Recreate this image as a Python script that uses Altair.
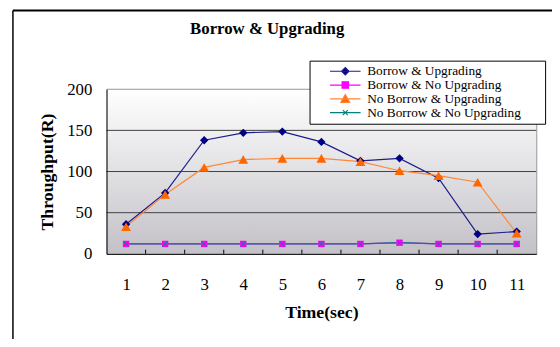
import altair as alt
import pandas as pd

# ---- data ----
time_sec = list(range(1, 12))
series_names = [
    "Borrow & Upgrading",
    "Borrow & No Upgrading",
    "No Borrow & Upgrading",
    "No Borrow & No Upgrading",
]
borrow_upgrading = [36, 74, 138, 147, 148.5, 136, 113, 116, 92, 24, 27]
borrow_no_upgrading = [12, 12, 12, 12, 12, 12, 12, 13.5, 12, 12, 12]
no_borrow_upgrading = [33, 72, 105, 114.5, 116, 116, 112, 101, 95, 87, 25]
no_borrow_no_upgrading = [12, 12, 12, 12, 12, 12, 12, 13.5, 12, 12, 12]

y_ticks = [0, 50, 100, 150, 200]
grid_values = [50, 100, 150, 200]
x_ticks = time_sec
x_minor_ticks = [1.5, 2.5, 3.5, 4.5, 5.5, 6.5, 7.5, 8.5, 9.5, 10.5]

# ---- styles ----
line_colors = ["#1c1c8c", "#ff00ff", "#ff8838", "#008080"]
marker_colors = ["#000080", "#ff00ff", "#ff6600", "#008080"]
marker_shapes = ["diamond", "square", "triangle-up", "M-1,-1L1,1M-1,1L1,-1"]
marker_sizes = [72, 42, 100, 30]
marker_filled = [True, True, True, False]
legend_paths = [
    "M-3.1,0H3.1M-0.75,0L0,-0.75L0.75,0L0,0.75Z",
    "M-3.1,0H3.1M-0.65,-0.65H0.65V0.65H-0.65Z",
    "M-3.1,0H3.1M-0.9,0.7L0,-0.9L0.9,0.7Z",
    "M-3.1,0H3.1M-0.5,-0.5L0.5,0.5M-0.5,0.5L0.5,-0.5",
]

serif = "Liberation Serif"

values_by_series = [borrow_upgrading, borrow_no_upgrading,
                    no_borrow_upgrading, no_borrow_no_upgrading]
rows = []
for name, vals in zip(series_names, values_by_series):
    for t, v in zip(time_sec, vals):
        rows.append({"time": t, "value": v, "series": name})
df = pd.DataFrame(rows)
grid_df = pd.DataFrame({"g": grid_values})
minor_df = pd.DataFrame({"m": x_minor_ticks})

x_scale = alt.Scale(domain=[0.5, 11.5], nice=False, zero=False)
y_scale = alt.Scale(domain=[0, 200], nice=False)

x_axis = alt.Axis(
    values=x_ticks, title="Time(sec)", ticks=False, grid=False,
    domainColor="black", labelPadding=23, labelFlush=False, zindex=1,
    labelFont=serif, labelFontSize=17, labelColor="black",
    titleFont=serif, titleFontSize=18, titleFontWeight="bold",
    titleColor="black", titlePadding=12, orient="bottom",
)
y_axis = alt.Axis(
    values=y_ticks, title="Throughput(R)", ticks=False, grid=False,
    domainColor="black", labelPadding=15, zindex=1,
    labelFont=serif, labelFontSize=17, labelColor="black",
    titleFont=serif, titleFontSize=18, titleFontWeight="bold",
    titleColor="black", titlePadding=10,
)

pad_chars = "\u00a0" * 6 + "\u200b"
leg = dict(
    title=None, orient="none", legendX=206, legendY=-29,
    fillColor="white", strokeColor="black", padding=4,
    symbolOffset=25.5, labelOffset=15.5, rowPadding=-1.5,
    labelFont=serif, labelFontSize=13.5, labelColor="black",
    labelExpr="datum.label + '" + pad_chars + "'",
    symbolStrokeWidth=1.2, labelLimit=400, symbolOpacity=1,
)
stroke_scale = alt.Scale(domain=series_names, range=line_colors)

background = alt.Chart(pd.DataFrame({"k": [0]})).mark_rect(
    color=alt.LinearGradient(
        gradient="linear",
        stops=[alt.GradientStop(color="#ffffff", offset=0),
               alt.GradientStop(color="#c3c1c7", offset=1)],
        x1=0, x2=0, y1=0, y2=1),
).encode(x=alt.value(0), x2=alt.value("width"), y=alt.value(0), y2=alt.value("height"))

grid = alt.Chart(grid_df).mark_rule(strokeWidth=1).encode(
    y=alt.Y("g:Q", scale=y_scale, axis=y_axis),
    color=alt.condition(alt.datum.g == 200, alt.value("#9a9a9a"), alt.value("#404040")),
)

minor_ticks = alt.Chart(minor_df).mark_rule(color="black", strokeWidth=1).encode(
    x=alt.X("m:Q", scale=x_scale, axis=x_axis),
    y=alt.Y(datum=0, scale=y_scale, axis=y_axis),
    y2=alt.Y2(datum=5),
)

lines = alt.Chart(df).mark_line(strokeWidth=1.2).encode(
    x=alt.X("time:Q", scale=x_scale, axis=x_axis),
    y=alt.Y("value:Q", scale=y_scale, axis=y_axis),
    stroke=alt.Stroke("series:N", scale=stroke_scale, legend=alt.Legend(**leg)),
)

point_layers = []
for i, name in enumerate(series_names):
    point_layers.append(
        alt.Chart(df).transform_filter(alt.datum.series == name).mark_point(
            shape=marker_shapes[i], size=marker_sizes[i], filled=marker_filled[i],
            color=marker_colors[i], opacity=1, strokeWidth=1,
        ).encode(
            x=alt.X("time:Q", scale=x_scale, axis=x_axis),
            y=alt.Y("value:Q", scale=y_scale, axis=y_axis),
        )
    )

legend_layer = alt.Chart(df).mark_point(
    size=100, strokeWidth=1.2, fillOpacity=0, strokeOpacity=0
).encode(
    x=alt.X("time:Q", scale=x_scale, axis=x_axis),
    y=alt.Y("value:Q", scale=y_scale, axis=y_axis),
    fill=alt.Fill("series:N", scale=alt.Scale(domain=series_names, range=marker_colors),
                  legend=alt.Legend(**leg)),
    stroke=alt.Stroke("series:N", scale=stroke_scale, legend=alt.Legend(**leg)),
    shape=alt.Shape("series:N", scale=alt.Scale(domain=series_names, range=legend_paths),
                    legend=alt.Legend(**leg)),
)

frame_df = pd.DataFrame({"k": [0]})
frame_left = alt.Chart(frame_df).mark_rule(color="black", strokeWidth=1.5).encode(
    x=alt.value(-95), y=alt.value(-80), y2=alt.value(260))
frame_top = alt.Chart(frame_df).mark_rule(color="black", strokeWidth=2).encode(
    x=alt.value(-95), x2=alt.value(452), y=alt.value(-80))

chart = alt.layer(
    frame_left, frame_top, background, grid, minor_ticks, lines, *point_layers,
    legend_layer
).properties(
    width=436, height=167,
    autosize=alt.AutoSizeParams(type="none"),
    padding={"left": 100, "top": 80, "right": 16, "bottom": 84},
    title=alt.TitleParams(
        "Borrow & Upgrading", font=serif, fontSize=17, fontWeight="bold",
        color="black", anchor="middle", frame="group", dx=-55,
        baseline="alphabetic", offset=-42),
).configure_view(
    stroke="#808080",
)

chart.save("out.html", embed_options={"renderer": "svg", "actions": False})
